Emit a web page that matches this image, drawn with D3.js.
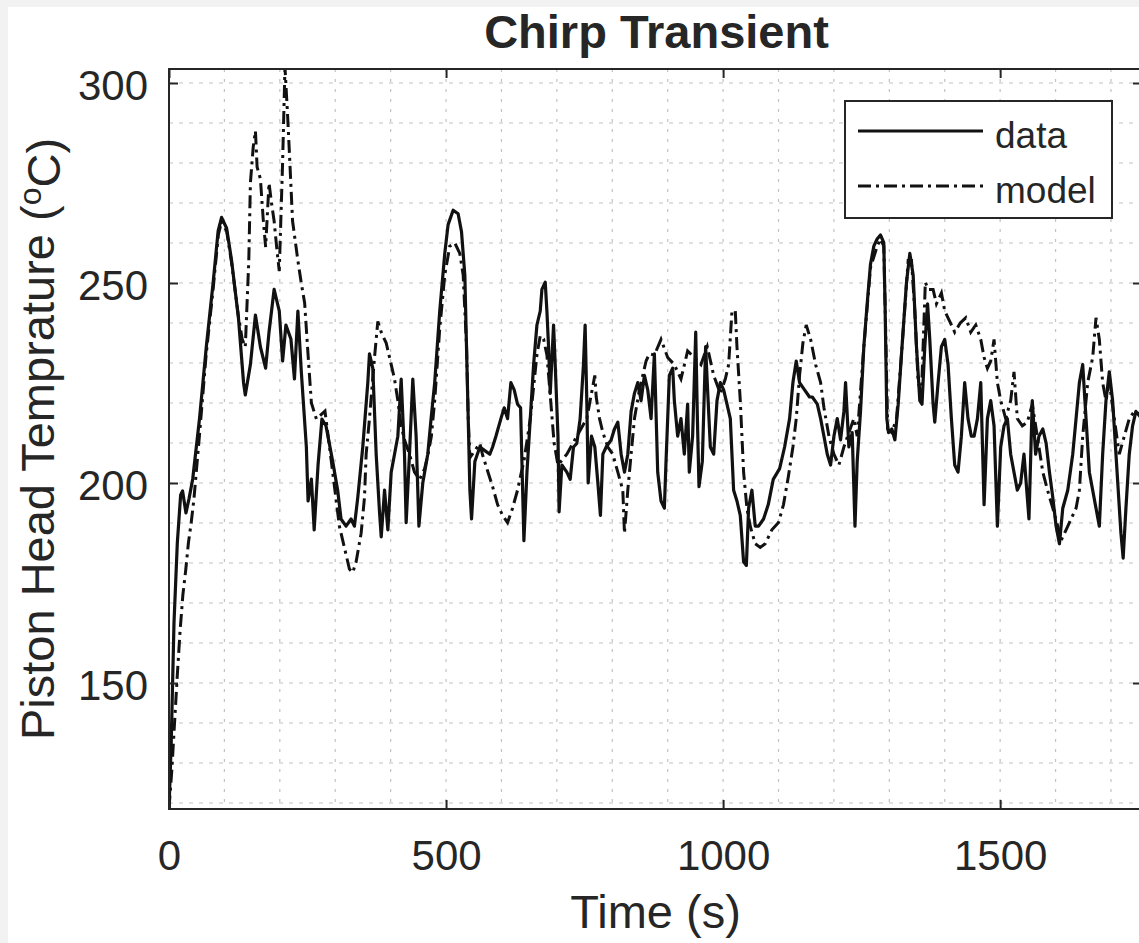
<!DOCTYPE html>
<html>
<head>
<meta charset="utf-8">
<script src="https://cdn.jsdelivr.net/npm/d3@7/dist/d3.min.js"></script>
<style>
  body { margin: 0; background: #f2f2f2; }
  svg { display: block; }
  text { font-family: "Liberation Sans", Arial, sans-serif; fill: #262626; }
</style>
</head>
<body>
<div id="chart"></div>
<script>
// Values: [time (s), temperature (degC)]
var dataPts = [[0,118.6],[4,135],[9,165],[15,185],[21,197],[24.5,198],[30.6,192.5],[36,196],[42.8,201],[55,216],[67.3,234],[79.6,250],[88.7,263],[94.9,266.4],[104,263.7],[113,255.6],[125.5,241],[134.6,225],[137.7,222],[146.9,229.6],[156,242],[165,234],[174.4,228.7],[180.5,237.7],[189.7,248.4],[199,243],[205,230.5],[211,239.5],[220,236],[226.4,226],[232.6,243],[238.7,228],[247.9,209],[251,195.5],[257,201],[262,188.3],[269,204.5],[276,216],[283.3,214.3],[295.4,205.4],[304.4,198.2],[310.5,191],[319.5,189.2],[328.6,191],[334.6,189.2],[340.7,196.4],[349.7,209],[358.8,225.1],[361.8,232.3],[367.8,228.7],[373.9,207.2],[379.9,192.8],[383,186.5],[389,198.2],[395,188.3],[401,202.7],[407,207.2],[413,211.7],[419,226],[425,207.2],[428,190.1],[434,207.2],[440,226],[446,211.7],[451,189.2],[458,200],[467,207.2],[473,216.1],[479.5,225.1],[488.6,243],[497.7,257.4],[503.7,264.6],[512.8,268.2],[521.8,267.3],[527.9,262.8],[533.9,252],[536.9,234.1],[540,216.1],[543,198.2],[546,191],[552,205.4],[561,209],[570,208.1],[579,207.2],[584,209],[590,211.7],[599,216.1],[605,218.8],[611,216.1],[617,225.1],[623,223.3],[629,219.7],[634.5,218.8],[640.5,185.6],[646,202.7],[652,216.1],[658,229.6],[664,239.5],[670,243],[673,248.4],[679,250.2],[682,243],[685,234.1],[688,222.4],[694,239.5],[697,229.6],[702,211.7],[704,192.8],[709,204.5],[718,202.7],[724,200.9],[730,209],[736,209.9],[742,216.1],[748,229.6],[751,239.5],[754,220.6],[756.5,200],[762.5,211.7],[768.5,209],[774,200],[778.6,191.9],[783,207.2],[789,209],[798,210.8],[804,213.5],[810,215.2],[816,207.2],[822,202.7],[828,207.2],[834,217.9],[840,222.4],[846,225.1],[852,220.6],[858,226.9],[864,223.3],[870,216.1],[876,232.3],[882,202.7],[888,195.5],[894,193.7],[897,205.4],[903,226.9],[909,228.7],[912,220.6],[918,211.7],[924,216.1],[930,207.2],[936,219.7],[939,202.7],[945,211.7],[950.6,237.7],[953.6,216.1],[956.5,199.1],[962.5,205.4],[968.5,234.1],[971.4,225.1],[977,209],[983,207.2],[989,220.6],[995,225.1],[1001,223.3],[1007,219.7],[1013,216.1],[1019,198.2],[1025,195.5],[1031,191.9],[1037,180.3],[1042,179.4],[1046,193.7],[1052,198.2],[1058,189.2],[1064,189.2],[1073,191],[1081.5,194.6],[1090.5,200.9],[1102,203.6],[1111,209],[1120,216.1],[1126,225.1],[1132,230.5],[1138,225.1],[1147,223.3],[1156,221.5],[1161,221.5],[1170,219.7],[1176,216.1],[1182,211.7],[1188,207.2],[1194,204.5],[1200,211.7],[1206,216.1],[1212,210.8],[1218,217.9],[1221,225.1],[1227,209],[1233,212.6],[1238,189.2],[1242,205.4],[1248,217.9],[1254,234.1],[1260,244.8],[1266,254.7],[1272,259.2],[1278,261],[1284,262],[1290,260.1],[1292.5,243],[1295.5,216.1],[1298.5,212.6],[1304.5,213.5],[1310,210.8],[1316,219.7],[1322,232.3],[1331,250.2],[1337,257.4],[1343,252],[1349,234.1],[1355,220.6],[1359,219.7],[1364,234.1],[1369,244.8],[1373,235.9],[1379,219.7],[1382,215.2],[1388,225.1],[1394,234.1],[1400,235.9],[1406,229.6],[1412,216.1],[1418,204.5],[1424,202.7],[1430,211.7],[1436,225.1],[1442,216.1],[1448,211.7],[1453,211.7],[1459,216.1],[1465,225.1],[1471,194.6],[1477,216.1],[1483,220.6],[1489,214.3],[1495,189.2],[1501,209],[1507,214.3],[1513,216.1],[1519,207.2],[1525,202.7],[1531,198.2],[1537,200],[1543,207.2],[1552,191],[1558,220.6],[1564,207.2],[1570,211.7],[1577,213.5],[1583,209.9],[1589,202.7],[1595,196.4],[1601,189.2],[1607,184.8],[1613,193.7],[1622,198.2],[1631,207.2],[1637,216.1],[1643,225.1],[1649,229.6],[1655,216.1],[1661,202.7],[1667,198.2],[1673,193.7],[1679,189.2],[1685,207.2],[1691,220.6],[1697,227.8],[1703,220.6],[1709,207.2],[1718,187.4],[1722,181.2],[1727,193.7],[1733,207.2],[1739,214.3],[1745,217.9],[1756,216]];

var modelPts = [[0,118.6],[5,128],[10,140],[15,152],[20,163],[25,172],[30,178],[35,185],[40,190],[45,196],[55,212],[67,232],[80,249],[89,262],[95,265.5],[104,263],[113,255],[125,242],[132,236],[137.7,234],[144,255.6],[146.9,275],[152,284],[156,288],[159,279],[165,276],[170,266],[174.4,259],[180.5,275],[185,270],[189.7,265.5],[195,258],[199,253],[205,280],[209.3,304],[214,292],[217,283.4],[223,265.5],[232.6,255.6],[238.7,250],[244.8,245],[251,232],[257,220],[266,216],[281.5,218],[295.4,202.7],[307.5,189.2],[316.5,183.9],[325.6,178.5],[331.6,177.6],[337.7,180.3],[346.7,187.4],[352.8,196.4],[355.8,207.2],[361.8,216.1],[370.9,231.4],[376.9,240.4],[383,237.7],[392,235],[398,231.4],[407,226],[413,220.6],[419,214.3],[425,210.8],[434,207.2],[443,202.7],[452.4,200.9],[461.4,203.6],[467.5,207.2],[473.5,211.7],[479.5,220.6],[488.6,238.6],[497.7,252],[506.7,259.2],[515.8,260],[524.8,257.4],[530.9,252],[537,234.1],[540,216.1],[543,206.3],[552,208.1],[561,209.9],[566,207],[575,203],[584,199.1],[593,194.6],[602,191.9],[611,190.1],[620,193.7],[629,198.2],[634.5,201.8],[640.5,205.4],[652,216],[664,232],[670,236.8],[676,236],[682,232],[688,222],[695,210],[702,204.5],[718,207.2],[736,211.7],[754,216.1],[768.5,226.9],[771,221.5],[777,216.1],[783,212.6],[792,209],[801,207.2],[810,202.7],[819,198.2],[822,187.4],[828,198.2],[834,207.2],[840,216.1],[849,223.3],[861,230.5],[867,232.3],[876,232],[888,235.9],[900,231.4],[912,229.6],[924,226],[936,233],[948,231.4],[960,229.6],[971.4,234.1],[983,226.9],[995,222.4],[1004,226],[1010,229.6],[1016,243],[1022,243],[1025,234.1],[1031,220.6],[1034,211.7],[1037,202.7],[1043,193.7],[1049,189.2],[1058,184.8],[1067,183.9],[1076,184.8],[1088,188.3],[1100,190.1],[1109,194.6],[1118,201.8],[1126,209],[1132,216.1],[1138,226.9],[1144,235],[1150,239.5],[1158,235.9],[1167,229.6],[1176,225.1],[1182,218.8],[1191,211.7],[1200,207.2],[1209,204.5],[1218,209],[1227,212.6],[1236,216.1],[1242,211.7],[1254,234.1],[1266,253.8],[1278,259.2],[1284,261],[1290,259.2],[1294,234.1],[1297,213.5],[1304.5,212.6],[1313,216.1],[1322,232.3],[1334,255.6],[1340,255.6],[1346,243],[1352,225.1],[1358,222.4],[1365,250.2],[1370,248.4],[1379,248.4],[1385,244.8],[1394,247.5],[1400,243],[1409,240.4],[1418,237.7],[1428,240],[1438,241.3],[1447,237.7],[1456,239.5],[1465,235.9],[1471,231.4],[1477,228.7],[1483,230.5],[1489,235.9],[1495,225.1],[1501,220.6],[1510,216.1],[1519,220.6],[1525,227.8],[1531,216.1],[1540,214.3],[1549,215.2],[1558,219.7],[1567,211.7],[1577,202.7],[1585.5,198.2],[1595,193.7],[1604,189.2],[1610,185.6],[1619,188.3],[1628,191],[1637,193.7],[1643,198.2],[1649,211.7],[1658,225.1],[1667,231.4],[1673,241.3],[1679,235.9],[1685,225.1],[1691,220.6],[1697,225.1],[1706,216.1],[1715,207.2],[1724,211.7],[1733,216.1],[1742,217.9],[1756,217]];

var seriesNames = ["data", "model"];
var xTicks = [0, 500, 1000, 1500];
var yTicks = [150, 200, 250, 300];
var xGrid = [100, 200, 300, 400, 500, 600, 700, 800, 900, 1000, 1100, 1200, 1300, 1400, 1500, 1600, 1700];
var yGrid = [120, 130, 140, 150, 160, 170, 180, 190, 200, 210, 220, 230, 240, 250, 260, 270, 280, 290, 300];

// size of the plot box
var margin = {top: 69, left: 169},
    width = 973,
    height = 740;

var svg = d3.select("#chart")
  .append("svg")
    .attr("width", 1139)
    .attr("height", 943);

// light grey border of the screenshot, white page behind the axes
svg.append("rect").attr("width", 1139).attr("height", 943).attr("fill", "#f2f2f2");
svg.append("rect").attr("x", 8).attr("y", 7).attr("width", 1131).attr("height", 936).attr("fill", "#ffffff");

var g = svg.append("g")
  .attr("transform", "translate(" + margin.left + "," + margin.top + ")");

var x = d3.scaleLinear().domain([0, 1756]).range([0, width]);
var y = d3.scaleLinear().domain([118.5, 303.5]).range([height, 0]);

// dotted grid
g.append("g").selectAll("line").data(xGrid).enter().append("line")
  .attr("x1", function(d) { return x(d); })
  .attr("x2", function(d) { return x(d); })
  .attr("y1", 0).attr("y2", height)
  .attr("stroke", "#c2c2c2").attr("stroke-width", 1.2)
  .attr("stroke-dasharray", "3,7");
g.append("g").selectAll("line").data(yGrid).enter().append("line")
  .attr("y1", function(d) { return y(d); })
  .attr("y2", function(d) { return y(d); })
  .attr("x1", 0).attr("x2", width)
  .attr("stroke", "#c2c2c2").attr("stroke-width", 1.2)
  .attr("stroke-dasharray", "4,6");

// clip the lines to the axes box
g.append("clipPath").attr("id", "plotclip")
  .append("rect").attr("width", width).attr("height", height);

var line = d3.line()
  .x(function(d) { return x(d[0]); })
  .y(function(d) { return y(d[1]); });

var plot = g.append("g").attr("clip-path", "url(#plotclip)");

plot.append("path")
  .datum(modelPts)
  .attr("fill", "none")
  .attr("stroke", "#111")
  .attr("stroke-width", 3)
  .attr("stroke-dasharray", "13,5,3,5")
  .attr("d", line);

plot.append("path")
  .datum(dataPts)
  .attr("fill", "none")
  .attr("stroke", "#111")
  .attr("stroke-width", 3.2)
  .attr("stroke-linejoin", "round")
  .attr("d", line);

// axes: ticks pointing inward, labels only bottom and left
var axisColor = "#262626";

var xAxis = g.append("g")
  .attr("transform", "translate(0," + height + ")")
  .call(d3.axisBottom(x).tickValues(xTicks).tickFormat(d3.format("d")).tickSizeInner(-9).tickSizeOuter(0));
xAxis.selectAll("text").attr("y", 61).attr("dy", null)
  .style("font-size", "42px").attr("fill", axisColor);

var yAxis = g.append("g")
  .call(d3.axisLeft(y).tickValues(yTicks).tickFormat(d3.format("d")).tickSizeInner(-9).tickSizeOuter(0).tickPadding(21));
yAxis.selectAll("text").attr("dy", "0.4em")
  .style("font-size", "42px").attr("fill", axisColor);

g.append("g")
  .call(d3.axisTop(x).tickValues(xTicks).tickSizeInner(-9).tickSizeOuter(0).tickFormat(""));
g.append("g")
  .attr("transform", "translate(" + width + ",0)")
  .call(d3.axisRight(y).tickValues(yTicks).tickSizeInner(-9).tickSizeOuter(0).tickFormat(""));

g.selectAll(".domain").remove();
g.selectAll(".tick line").attr("stroke", axisColor).attr("stroke-width", 2);

g.append("rect")
  .attr("width", width).attr("height", height)
  .attr("fill", "none").attr("stroke", axisColor).attr("stroke-width", 2);

// titles
svg.append("text")
  .attr("x", margin.left + width / 2 + 1).attr("y", 48)
  .attr("text-anchor", "middle")
  .style("font-size", "47px").style("font-weight", "bold")
  .text("Chirp Transient");

svg.append("text")
  .attr("x", margin.left + width / 2).attr("y", 928)
  .attr("text-anchor", "middle")
  .style("font-size", "47px")
  .text("Time (s)");

var yLab = svg.append("text")
  .attr("transform", "translate(54,439) rotate(-90)")
  .attr("text-anchor", "middle")
  .style("font-size", "47px");
yLab.append("tspan").text("Piston Head Temprature (");
yLab.append("tspan").attr("dy", "-0.4em").style("font-size", "32px").text("o");
yLab.append("tspan").attr("dy", "0.4em").text("C)");

// legend
var legend = svg.append("g").attr("transform", "translate(845,101)");
legend.append("rect")
  .attr("width", 267).attr("height", 117)
  .attr("fill", "#fff").attr("stroke", axisColor).attr("stroke-width", 2);

var legendDash = [null, "13,5,3,5"];
seriesNames.forEach(function(name, i) {
  var ly = 30 + i * 55;
  legend.append("line")
    .attr("x1", 13).attr("x2", 138)
    .attr("y1", ly).attr("y2", ly)
    .attr("stroke", "#111").attr("stroke-width", 3)
    .attr("stroke-dasharray", legendDash[i]);
  legend.append("text")
    .attr("x", 150).attr("y", ly + 17)
    .style("font-size", "37px")
    .text(name);
});
</script>
</body>
</html>
